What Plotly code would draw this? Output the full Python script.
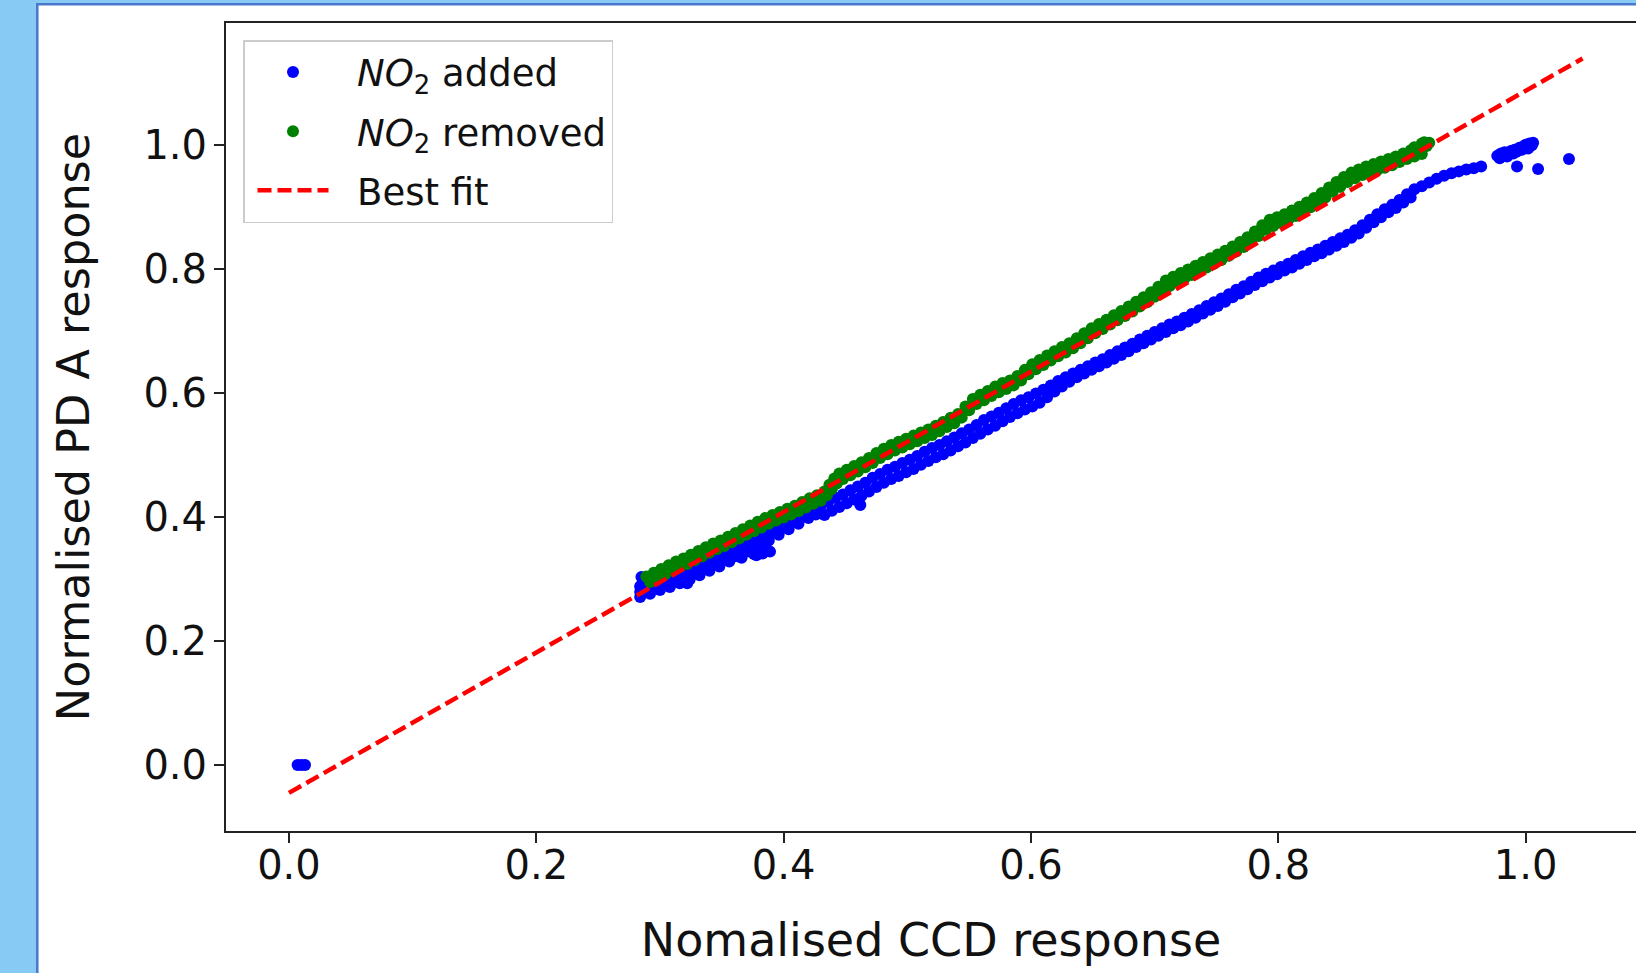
import plotly.graph_objects as go

# ---------------- data ----------------
# NO2 added (blue)
added_origin_x = [0.007, 0.010, 0.013]
added_origin_y = [0.000, 0.000, 0.000]

added_low_x = [0.284, 0.292, 0.300, 0.308, 0.316, 0.324, 0.332, 0.340, 0.348, 0.356,
               0.364, 0.372, 0.380, 0.388, 0.396, 0.404, 0.412, 0.420, 0.426]
added_low_top_y = [0.288, 0.294, 0.300, 0.306, 0.312, 0.318, 0.325, 0.332, 0.339, 0.347,
                   0.355, 0.363, 0.371, 0.380, 0.389, 0.398, 0.407, 0.416, 0.422]
added_low_mid_y = [0.279, 0.285, 0.291, 0.296, 0.302, 0.308, 0.315, 0.322, 0.330, 0.337,
                   0.345, 0.353, 0.362, 0.371, 0.380, 0.389, 0.398, 0.407, 0.413]
added_low_bot_y = [0.271, 0.276, 0.282, 0.287, 0.293, 0.299, 0.306, 0.313, 0.320, 0.328,
                   0.336, 0.344, 0.353, 0.362, 0.371, 0.380, 0.389, 0.398, 0.404]

added_blob_x = [0.285, 0.322, 0.360, 0.366, 0.372, 0.378, 0.384, 0.389, 0.376, 0.383, 0.462]
added_blob_y = [0.303, 0.293, 0.336, 0.334, 0.345, 0.338, 0.350, 0.344, 0.340, 0.341, 0.419]

added_chain_x = [0.430, 0.436, 0.442, 0.448, 0.454, 0.460, 0.466, 0.472, 0.478, 0.484,
                 0.490, 0.496, 0.502, 0.508, 0.514, 0.520, 0.526, 0.532, 0.538, 0.544,
                 0.550, 0.556, 0.562, 0.568, 0.574, 0.580, 0.586, 0.592, 0.598, 0.604,
                 0.610, 0.616, 0.622, 0.628, 0.634, 0.640, 0.646, 0.652, 0.658, 0.664,
                 0.670, 0.676, 0.682, 0.688, 0.694, 0.700, 0.706, 0.712, 0.718, 0.724,
                 0.730, 0.736, 0.742, 0.748, 0.754, 0.760, 0.766, 0.772, 0.778, 0.784,
                 0.790, 0.796, 0.802, 0.808, 0.814, 0.820, 0.826, 0.832, 0.838, 0.844,
                 0.850, 0.856, 0.862, 0.868, 0.874, 0.880, 0.886, 0.892, 0.898, 0.904,
                 0.910, 0.916, 0.922, 0.928, 0.934, 0.940, 0.946, 0.952, 0.958, 0.964]
added_chain_y = [0.418, 0.424, 0.431, 0.436, 0.443, 0.449, 0.455, 0.463, 0.469, 0.476,
                 0.481, 0.487, 0.492, 0.498, 0.505, 0.511, 0.516, 0.522, 0.528, 0.535,
                 0.541, 0.548, 0.556, 0.562, 0.568, 0.575, 0.582, 0.588, 0.593, 0.599,
                 0.605, 0.612, 0.619, 0.625, 0.631, 0.637, 0.643, 0.649, 0.654, 0.661,
                 0.667, 0.673, 0.679, 0.686, 0.692, 0.698, 0.704, 0.710, 0.715, 0.721,
                 0.727, 0.733, 0.740, 0.746, 0.752, 0.759, 0.766, 0.772, 0.779, 0.786,
                 0.792, 0.797, 0.803, 0.808, 0.814, 0.820, 0.826, 0.831, 0.837, 0.843,
                 0.849, 0.855, 0.862, 0.870, 0.879, 0.888, 0.896, 0.903, 0.911, 0.920,
                 0.928, 0.933, 0.939, 0.945, 0.950, 0.954, 0.957, 0.960, 0.962, 0.965]

added_chain2_x = [0.433, 0.439, 0.445, 0.451, 0.457, 0.463, 0.469, 0.475, 0.481, 0.487,
                  0.493, 0.499, 0.505, 0.511, 0.517, 0.523, 0.529, 0.535, 0.541, 0.547,
                  0.553, 0.559, 0.565, 0.571, 0.577, 0.583, 0.589, 0.595, 0.601, 0.607,
                  0.613, 0.619, 0.625, 0.631, 0.637, 0.643, 0.649, 0.655, 0.661, 0.667,
                  0.673, 0.679, 0.685, 0.691, 0.697, 0.703, 0.709, 0.715, 0.721, 0.727,
                  0.733, 0.739, 0.745, 0.751, 0.757, 0.763, 0.769, 0.775, 0.781, 0.787,
                  0.793, 0.799, 0.805, 0.811, 0.817, 0.823, 0.829, 0.835, 0.841, 0.847,
                  0.853, 0.859, 0.865, 0.871, 0.877, 0.883, 0.889, 0.895, 0.901, 0.907]
added_chain2_y = [0.403, 0.410, 0.416, 0.422, 0.428, 0.434, 0.441, 0.448, 0.455, 0.461,
                  0.466, 0.472, 0.477, 0.484, 0.490, 0.496, 0.501, 0.507, 0.514, 0.520,
                  0.527, 0.534, 0.541, 0.547, 0.554, 0.561, 0.567, 0.573, 0.578, 0.584,
                  0.593, 0.602, 0.610, 0.618, 0.625, 0.631, 0.637, 0.643, 0.649, 0.655,
                  0.661, 0.667, 0.674, 0.680, 0.686, 0.692, 0.698, 0.704, 0.709, 0.715,
                  0.721, 0.728, 0.734, 0.740, 0.747, 0.754, 0.760, 0.767, 0.774, 0.780,
                  0.786, 0.791, 0.797, 0.802, 0.808, 0.814, 0.820, 0.825, 0.831, 0.837,
                  0.843, 0.850, 0.857, 0.866, 0.875, 0.883, 0.891, 0.898, 0.907, 0.915]

added_end_x = [0.977, 0.980, 0.983, 0.986, 0.988, 0.991, 0.993, 0.995, 0.998, 1.000,
               1.003, 1.005, 1.006, 1.002, 0.985, 0.979, 0.990, 0.997,
               0.993, 1.010, 1.035]
added_end_y = [0.982, 0.986, 0.988, 0.985, 0.990, 0.992, 0.989, 0.995, 0.997, 1.000,
               1.002, 0.999, 1.003, 0.994, 0.981, 0.978, 0.986, 0.992,
               0.965, 0.961, 0.977]

# NO2 removed (green)
removed_x = [0.289, 0.295, 0.301, 0.307, 0.313, 0.319, 0.325, 0.331, 0.337, 0.343,
             0.349, 0.355, 0.361, 0.367, 0.373, 0.379, 0.385, 0.391, 0.397, 0.403,
             0.409, 0.415, 0.421, 0.427, 0.433, 0.437, 0.441, 0.445, 0.451, 0.457,
             0.463, 0.469, 0.475, 0.481, 0.487, 0.493, 0.499, 0.505, 0.511, 0.517,
             0.523, 0.529, 0.535, 0.541, 0.547, 0.553, 0.559, 0.565, 0.571, 0.577,
             0.583, 0.589, 0.595, 0.601, 0.607, 0.613, 0.619, 0.625, 0.631, 0.637,
             0.643, 0.649, 0.655, 0.661, 0.667, 0.673, 0.679, 0.685, 0.691, 0.697,
             0.703, 0.709, 0.715, 0.721, 0.727, 0.733, 0.739, 0.745, 0.751, 0.757,
             0.763, 0.769, 0.775, 0.781, 0.787, 0.793, 0.799, 0.805, 0.811, 0.817,
             0.823, 0.829, 0.835, 0.841, 0.847, 0.853, 0.859, 0.865, 0.871, 0.877,
             0.883, 0.889, 0.895, 0.901, 0.907, 0.913, 0.918, 0.922,
             0.916, 0.920, 0.910, 0.918]
removed_y = [0.304, 0.310, 0.316, 0.322, 0.328, 0.333, 0.339, 0.345, 0.351, 0.357,
             0.362, 0.368, 0.374, 0.380, 0.386, 0.392, 0.398, 0.403, 0.408, 0.413,
             0.418, 0.424, 0.430, 0.435, 0.441, 0.452, 0.462, 0.470, 0.476, 0.482,
             0.488, 0.495, 0.503, 0.510, 0.516, 0.521, 0.526, 0.531, 0.536, 0.541,
             0.547, 0.553, 0.560, 0.566, 0.578, 0.590, 0.597, 0.603, 0.610, 0.616,
             0.620, 0.627, 0.637, 0.646, 0.653, 0.660, 0.667, 0.674, 0.680, 0.688,
             0.696, 0.704, 0.711, 0.718, 0.725, 0.732, 0.739, 0.747, 0.754, 0.762,
             0.771, 0.781, 0.787, 0.793, 0.799, 0.805, 0.811, 0.817, 0.823, 0.829,
             0.836, 0.843, 0.851, 0.860, 0.870, 0.879, 0.883, 0.888, 0.894, 0.900,
             0.907, 0.914, 0.922, 0.931, 0.940, 0.948, 0.955, 0.960, 0.965, 0.969,
             0.973, 0.977, 0.981, 0.986, 0.991, 0.995, 0.999, 1.003,
             1.002, 0.998, 0.996, 1.004]

removed2_x = [0.292, 0.298, 0.304, 0.310, 0.316, 0.322, 0.328, 0.334, 0.340, 0.346,
              0.352, 0.358, 0.364, 0.370, 0.376, 0.382, 0.388, 0.394, 0.400, 0.406,
              0.412, 0.418, 0.424, 0.430, 0.435, 0.439, 0.443, 0.448, 0.454, 0.460,
              0.466, 0.472, 0.478, 0.484, 0.490, 0.496, 0.502, 0.508, 0.514, 0.520,
              0.526, 0.532, 0.538, 0.544, 0.550, 0.556, 0.562, 0.568, 0.574, 0.580,
              0.586, 0.592, 0.598, 0.604, 0.610, 0.616, 0.622, 0.628, 0.634, 0.640,
              0.646, 0.652, 0.658, 0.664, 0.670, 0.676, 0.682, 0.688, 0.694, 0.700,
              0.706, 0.712, 0.718, 0.724, 0.730, 0.736, 0.742, 0.748, 0.754, 0.760,
              0.766, 0.772, 0.778, 0.784, 0.790, 0.796, 0.802, 0.808, 0.814, 0.820,
              0.826, 0.832, 0.838, 0.844, 0.850, 0.856, 0.862, 0.868, 0.874, 0.880,
              0.886, 0.892, 0.898, 0.904, 0.910, 0.916]
removed2_y = [0.295, 0.301, 0.307, 0.313, 0.319, 0.324, 0.330, 0.336, 0.342, 0.348,
              0.353, 0.359, 0.365, 0.371, 0.377, 0.383, 0.389, 0.394, 0.399, 0.404,
              0.409, 0.415, 0.421, 0.426, 0.435, 0.445, 0.454, 0.461, 0.467, 0.473,
              0.480, 0.487, 0.495, 0.501, 0.507, 0.512, 0.517, 0.522, 0.527, 0.532,
              0.538, 0.545, 0.551, 0.560, 0.572, 0.582, 0.588, 0.595, 0.601, 0.606,
              0.612, 0.620, 0.630, 0.638, 0.645, 0.652, 0.659, 0.665, 0.672, 0.680,
              0.688, 0.696, 0.703, 0.710, 0.717, 0.724, 0.731, 0.739, 0.746, 0.755,
              0.764, 0.772, 0.778, 0.784, 0.790, 0.796, 0.802, 0.808, 0.814, 0.821,
              0.828, 0.835, 0.844, 0.853, 0.863, 0.869, 0.874, 0.879, 0.885, 0.892,
              0.899, 0.906, 0.915, 0.924, 0.932, 0.940, 0.946, 0.951, 0.955, 0.959,
              0.963, 0.967, 0.972, 0.977, 0.981, 0.985]

# Best fit line end points
fit_x = [0.0, 1.046]
fit_y = [-0.045, 1.139]

x_tickvals = [0.0, 0.2, 0.4, 0.6, 0.8, 1.0]
y_tickvals = [0.0, 0.2, 0.4, 0.6, 0.8, 1.0]
x_range = [-0.0509, 1.0892]
y_range = [-0.1064, 1.1962]

# ---------------- figure ----------------
W, H = 1636, 973
ML, MT, MB = 226, 23, 142
PW, PH = W - ML, H - MT - MB
FONT = "DejaVu Sans"
INK = "#111111"
NB = "\u00a0"


def px_to_paper_x(px):
    return (px - ML) / PW


def px_to_paper_y(py):
    return (H - MB - py) / PH


added_x = (added_origin_x + added_low_x * 3 + added_blob_x + added_chain_x
           + added_chain2_x + added_end_x)
added_y = (added_origin_y + added_low_top_y + added_low_mid_y + added_low_bot_y
           + added_blob_y + added_chain_y + added_chain2_y + added_end_y)
rem_x = removed_x + removed2_x
rem_y = removed_y + removed2_y

fig = go.Figure()
fig.add_trace(go.Scatter(
    x=added_x, y=added_y, mode="markers",
    name=NB * 2 + "<i>NO</i><sub>2</sub> added",
    marker=dict(color="#0000FF", size=12, line=dict(width=0)), legendgroup="a"))
fig.add_trace(go.Scatter(
    x=rem_x, y=rem_y, mode="markers",
    name=NB * 2 + "<i>NO</i><sub>2</sub> removed",
    marker=dict(color="#008000", size=12, line=dict(width=0)), legendgroup="b"))
fig.add_trace(go.Scatter(
    x=fit_x, y=fit_y, mode="lines", name=NB * 2 + "Best fit",
    line=dict(color="#FF0000", width=4.5, dash="14px,6px"), legendgroup="c"))

axis_common = dict(
    showgrid=False, zeroline=False, showline=True, linecolor="#222222", linewidth=2,
    ticks="outside", ticklen=10, tickwidth=2, tickcolor="#222222",
    tickfont=dict(family=FONT, size=40, color=INK), tickformat=".1f",
)

fig.update_layout(
    width=W, height=H,
    margin=dict(l=ML, r=0, t=MT, b=MB, autoexpand=False),
    paper_bgcolor="#87CBF5",
    plot_bgcolor="white",
    font=dict(family=FONT, color=INK),
    xaxis=dict(range=x_range, tickvals=x_tickvals, mirror=True, ticklabelstandoff=-12,
               title=dict(text=NB * 2 + "Nomalised CCD response",
                          font=dict(family=FONT, size=46, color=INK), standoff=37),
               automargin=False, **axis_common),
    yaxis=dict(range=y_range, tickvals=y_tickvals, mirror=False, ticklabelstandoff=-1,
               title=dict(text="Normalised PD A response",
                          font=dict(family=FONT, size=44.5, color=INK), standoff=40),
               automargin=False, **axis_common),
    legend=dict(
        x=px_to_paper_x(243), y=px_to_paper_y(40), xanchor="left", yanchor="top",
        bgcolor="rgba(255,255,255,0.8)", bordercolor="#CCCCCC", borderwidth=1.5,
        font=dict(family=FONT, size=37, color=INK), tracegroupgap=8,
        itemwidth=71, indentation=8,
    ),
    shapes=[dict(
        type="rect", xref="paper", yref="paper", layer="below",
        x0=px_to_paper_x(37.3), x1=px_to_paper_x(1700),
        y0=px_to_paper_y(1100), y1=px_to_paper_y(4.3),
        fillcolor="white", line=dict(color="#4A78CC", width=2.5),
    )],
    showlegend=True,
)

fig.write_html("out.html")
